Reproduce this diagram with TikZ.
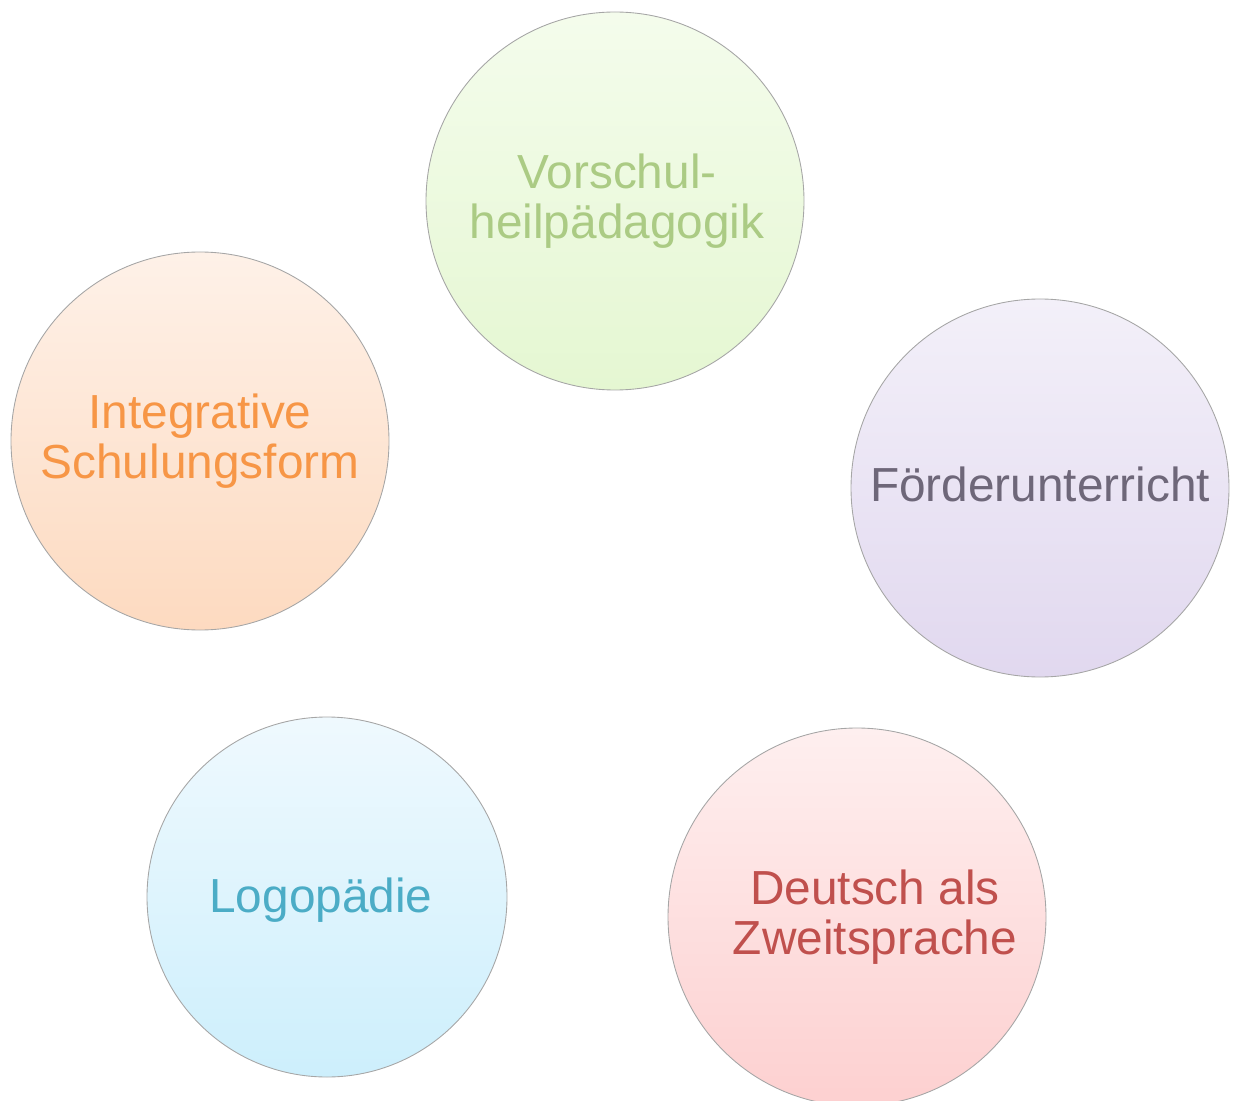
\documentclass[tikz,border=0pt]{standalone}
\usepackage{fontspec}
\setmainfont{Liberation Sans}
\usepackage{tikz}

\definecolor{greentext}{HTML}{ABCB84}
\definecolor{greentop}{HTML}{F4FCEC}
\definecolor{greenbot}{HTML}{E5F7D2}
\definecolor{orangetext}{HTML}{F79646}
\definecolor{orangetop}{HTML}{FEF1E8}
\definecolor{orangebot}{HTML}{FDDAC0}
\definecolor{purpletext}{HTML}{6E6779}
\definecolor{purpletop}{HTML}{F3F0F9}
\definecolor{purplebot}{HTML}{E1D8EF}
\definecolor{bluetext}{HTML}{4BACC6}
\definecolor{bluetop}{HTML}{EFF9FE}
\definecolor{bluebot}{HTML}{CDEFFC}
\definecolor{redtext}{HTML}{C0504D}
\definecolor{redtop}{HTML}{FEEFEF}
\definecolor{redbot}{HTML}{FDD0D0}

\tikzset{
  disc/.style={circle, draw=black!35, line width=0.5pt, inner sep=0pt, minimum size=378*0.02cm},
  label text/.style={align=center, font=\fontsize{27.2}{28.4}\selectfont}
}

\begin{document}
\begin{tikzpicture}[x=0.02cm, y=-0.02cm]
\useasboundingbox (0,0) rectangle (1234,1101);

% the five discs
\node[disc, top color=greentop, bottom color=greenbot] (D1) at (615,201) {};
\node[disc, top color=orangetop, bottom color=orangebot] (D2) at (200,441) {};
\node[disc, top color=purpletop, bottom color=purplebot] (D3) at (1040,488) {};
\node[disc, top color=bluetop, bottom color=bluebot, minimum size=360*0.02cm] (D4) at (327,897) {};
\node[disc, top color=redtop, bottom color=redbot] (D5) at (857,917) {};

% their labels
\node[label text, text=greentext] (T1) at ([xshift=0.04cm]D1.center) {Vorschul-\\heilpädagogik};
\node[label text, text=orangetext] (T2) at (D2.center) {Integrative\\Schulungsform};
\node[label text, text=purpletext] (T3) at ([yshift=0.08cm]D3.center) {Förderunterricht};
\node[label text, text=bluetext] (T4) at ([xshift=-0.12cm,yshift=-0.06cm]D4.center) {Logopädie};
\node[label text, text=redtext] (T5) at ([xshift=0.36cm]D5.center) {Deutsch als\\Zweitsprache};

\end{tikzpicture}
\end{document}
